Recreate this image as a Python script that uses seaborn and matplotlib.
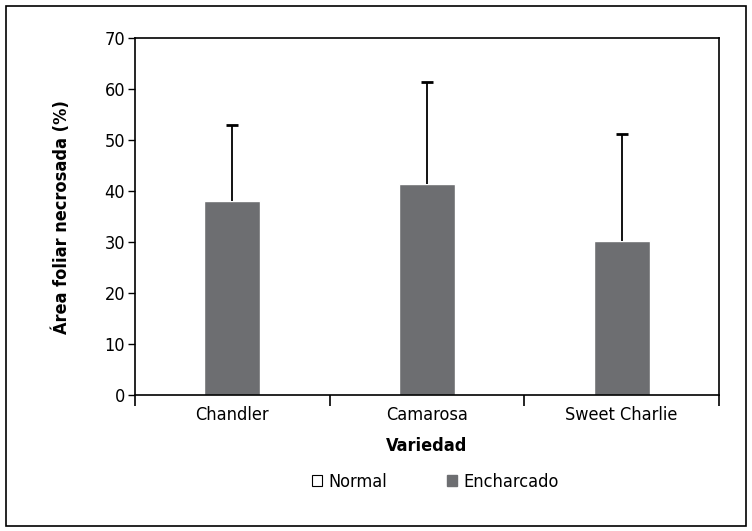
import numpy as np
import pandas as pd
import matplotlib.pyplot as plt
import matplotlib.patches as mpatches
import seaborn as sns

# datos
variedades = ['Chandler', 'Camarosa', 'Sweet Charlie']
encharcado = [38.0, 41.4, 30.2]
error_sup = [15.0, 20.0, 21.0]
series = ['Normal', 'Encharcado']
yticks = [0, 10, 20, 30, 40, 50, 60, 70]

sns.set_style('white')
plt.rcParams['font.family'] = ['DejaVu Sans']
plt.rcParams['font.stretch'] = 'condensed'
plt.rcParams['text.color'] = 'black'
plt.rcParams['axes.labelcolor'] = 'black'
plt.rcParams['xtick.color'] = 'black'
plt.rcParams['ytick.color'] = 'black'

df = pd.DataFrame({'Variedad': variedades, 'Area': encharcado})

fig = plt.figure(figsize=(7.52, 5.31), dpi=100)
ax = fig.add_axes([0.1795, 0.256, 0.7765, 0.672])

sns.barplot(data=df, x='Variedad', y='Area', color='#6d6e71', saturation=1,
            width=0.287, ax=ax)
eb = ax.errorbar(np.arange(len(variedades)), encharcado,
                 yerr=[np.zeros(len(error_sup)), error_sup],
                 fmt='none', ecolor='black', elinewidth=1.3, capsize=4.5,
                 capthick=2)
# solo la barra superior
eb[1][0].set_visible(False)

ax.set_xlim(-0.5, 2.5)
ax.set_ylim(0, 70)
ax.set_yticks(yticks)
ax.set_xticks(range(len(variedades)))
ax.set_xticklabels(variedades, fontsize=13)
ax.set_xticks([-0.5, 0.5, 1.5, 2.5], minor=True)
ax.tick_params(axis='x', which='major', length=0, pad=8)
ax.tick_params(axis='x', which='minor', length=8, width=1.2, direction='out',
               color='black', bottom=True)
ax.tick_params(axis='y', length=5, width=1, direction='out', color='black',
               left=True, labelsize=13, pad=2)

for s in ax.spines.values():
    s.set_color('black')
    s.set_linewidth(1.2)

ax.set_xlabel('Variedad', fontsize=13, fontweight='bold', labelpad=9)
ax.set_ylabel('Área foliar necrosada (%)', fontsize=13, fontweight='bold',
              labelpad=24)

handles = [mpatches.Patch(facecolor='white', edgecolor='black', linewidth=0.8),
           mpatches.Patch(facecolor='#6d6e71', edgecolor='#6d6e71')]
fig.legend(handles, series, loc='center', bbox_to_anchor=(0.579, 0.092),
           ncol=2, frameon=False, fontsize=13, handlelength=0.55,
           handleheight=0.55, handletextpad=0.35, columnspacing=3.3)

# borde exterior
fig.patches.append(mpatches.Rectangle((0.008, 0.01), 0.984, 0.979,
                                      transform=fig.transFigure,
                                      fill=False, edgecolor='black',
                                      linewidth=1.2))

fig.savefig('out.png', dpi=100)
